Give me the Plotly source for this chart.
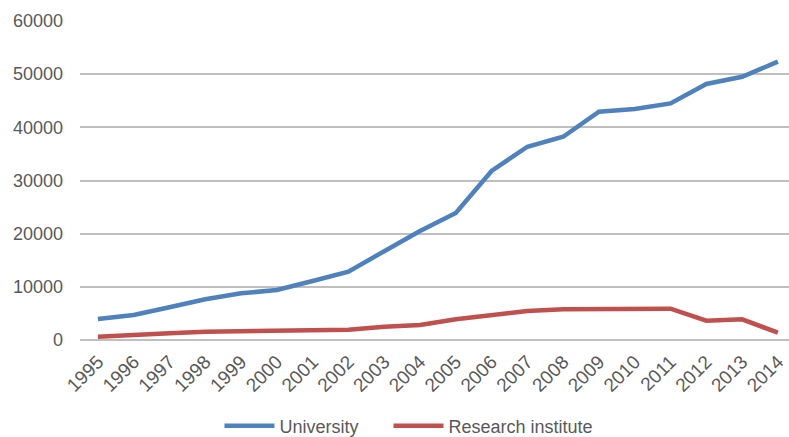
import plotly.graph_objects as go

years = list(range(1995, 2015))
university = [3950, 4700, 6150, 7650, 8780, 9400, 11100, 12850, 16700, 20500,
              23900, 31800, 36350, 38230, 42940, 43450, 44500, 48150, 49520, 52350]
research_institute = [620, 850, 1250, 1570, 1690, 1750, 1880, 1940, 2500, 2820,
                      3890, 4700, 5450, 5770, 5770, 5890, 5890, 3640, 3890, 1380]
y_ticks = [0, 10000, 20000, 30000, 40000, 50000, 60000]

BLUE = "#4F81BD"
RED = "#C0504D"
GRID = "#BFBFBF"
TEXT = "#595959"
FONT = "Liberation Sans, Arial, sans-serif"
PAD = "\u00a0" * 5  # extra room between the two legend entries

fig = go.Figure()
fig.add_trace(go.Scatter(x=years, y=university, mode="lines",
                         name="University" + PAD,
                         line=dict(color=BLUE, width=4.5)))
fig.add_trace(go.Scatter(x=years, y=research_institute, mode="lines",
                         name="Research institute",
                         line=dict(color=RED, width=4.5)))

fig.update_layout(
    width=789, height=437,
    margin=dict(l=80, r=0, t=21, b=97, autoexpand=False),
    paper_bgcolor="white", plot_bgcolor="white",
    font=dict(family=FONT, size=18, color=TEXT),
    showlegend=True,
    legend=dict(orientation="h", x=0.464, xanchor="center", y=-0.27,
                yanchor="middle", itemwidth=50,
                font=dict(family=FONT, size=18, color=TEXT),
                traceorder="normal"),
    xaxis=dict(range=[1994.5, 2014.31], tickmode="array", tickvals=years,
               ticktext=[str(y) for y in years], tickangle=-45,
               showgrid=False, zeroline=False, showline=False,
               ticks="", automargin=False, ticklabelstandoff=6,
               tickfont=dict(size=19, color=TEXT)),
    yaxis=dict(range=[0, 60000], tickmode="array", tickvals=y_ticks,
               ticktext=[str(v) for v in y_ticks],
               showgrid=True, gridcolor=GRID, gridwidth=1.5,
               zeroline=True, zerolinecolor=GRID, zerolinewidth=1.5,
               showline=False, ticks="", ticklabelstandoff=16,
               automargin=False, tickfont=dict(size=18, color=TEXT)),
)

fig.write_html("out.html")
